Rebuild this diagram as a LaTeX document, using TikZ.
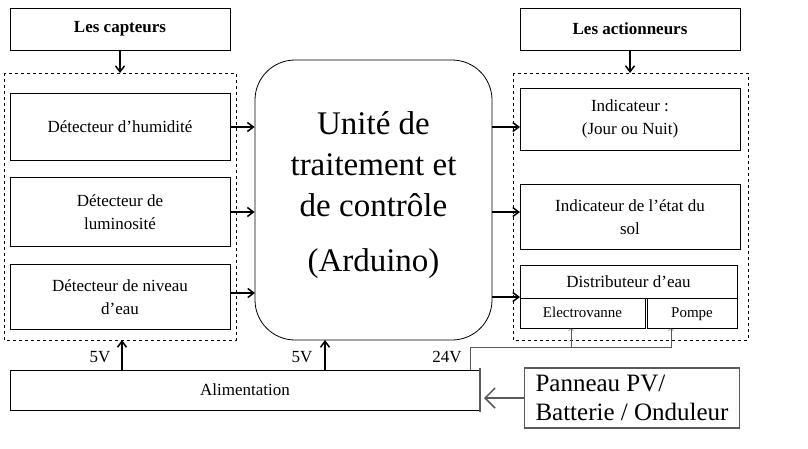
\documentclass[tikz,border=0pt]{standalone}
\usepackage{fontspec}
\setmainfont{Liberation Serif}
\usetikzlibrary{arrows.meta}
\begin{document}
\begin{tikzpicture}[x=1pt,y=-1pt,
 box/.style={draw,thick,align=center,font=\fontsize{17}{23}\selectfont},
 ar/.style={line width=1.5pt,-{Straight Barb[length=6pt,width=9pt]}},
 gar/.style={draw=gray!70!black,-{Straight Barb[length=10pt,width=20pt]}},
 dsh/.style={draw,dashed}]
\useasboundingbox (0,0) rectangle (808,448);
\node[box,minimum width=220,minimum height=42,font=\fontsize{17}{21}\selectfont\bfseries] (cap) at (120,29) {Les capteurs};
\node[box,minimum width=220,minimum height=42,font=\fontsize{17}{21}\selectfont\bfseries] (act) at (630,29) {Les actionneurs};
\draw[dsh] (4,73) rectangle (236,340);
\draw[dsh] (513,73) rectangle (748,340);
\coordinate (lt) at (120,73); \coordinate (rt) at (630,73);
\draw[ar] (cap) -- (lt);
\draw[ar] (act) -- (rt);
\node[box,minimum width=220,minimum height=67] (d1) at (120,127) {Détecteur d’humidité};
\node[box,minimum width=220,minimum height=69] (d2) at (120,212) {Détecteur de\\luminosité};
\node[box,minimum width=220,minimum height=65] (d3) at (120,297) {Détecteur de niveau\\d’eau};
\node[draw,thick,rounded corners=40,minimum width=237,minimum height=280] (u) at (373.5,200) {};
\node[align=center,font=\fontsize{33}{41}\selectfont] (ut) at (373.5,195) {Unité de\\traitement et\\de contrôle\\[14pt](Arduino)};
\node[box,minimum width=220,minimum height=62] (a1) at (630,119) {Indicateur :\\(Jour ou Nuit)};
\node[box,minimum width=220,minimum height=65] (a2) at (630,217) {Indicateur de l’état du\\sol};
\node[box,minimum width=217,minimum height=33] (a3) at (628.5,281.5) {Distributeur d’eau};
\node[box,minimum width=125,minimum height=30,text height=11pt,text depth=3pt,font=\fontsize{15}{18}\selectfont] (ev) at (582.5,313) {Electrovanne};
\node[box,minimum width=90,minimum height=30,text height=11pt,text depth=3pt,font=\fontsize{15}{18}\selectfont] (po) at (692,313) {Pompe};
\draw[ar] (d1.east) -- (u.west|-d1.east);
\draw[ar] (d2.east) -- (u.west|-d2.east);
\draw[ar] (230,293) -- (255,293);
\draw[ar] (492,127) -- (520,127);
\draw[ar] (492,212) -- (520,212);
\draw[ar] (492,297) -- (520,297);
\node[draw,thick,minimum width=470,minimum height=40,font=\fontsize{17}{21}\selectfont] (al) at (245,390) {Alimentation};
\draw[gray!70!black,line width=1.5pt] (480,368) -- (480,412);
\coordinate (c5a) at (122,340); \coordinate (c5b) at (325,340);
\draw[ar] (122,370) -- (c5a);
\draw[ar] (325,370) -- (c5b);
\node[font=\fontsize{17}{21}\selectfont] at (100,357) {5V};
\node[font=\fontsize{17}{21}\selectfont] at (302,357) {5V};
\node[font=\fontsize{17}{21}\selectfont] at (447,357) {24V};
\draw[gray!70!black] (470,370) -- (470,347) -- (672,347);
\draw[gray!70!black,->] (571,347) -- (ev.south-|571,0);
\draw[gray!70!black,->] (671,347) -- (po.south-|671,0);
\node[draw=gray!70!black,line width=1.5pt,minimum width=215,minimum height=60,align=left,font=\fontsize{25}{29}\selectfont] (pv) at (632,398) {Panneau PV/\\Batterie / Onduleur};
\coordinate (pe) at (484,398);
\draw[gar,line width=1.5pt] (pv) -- (pe);
\end{tikzpicture}
\end{document}
